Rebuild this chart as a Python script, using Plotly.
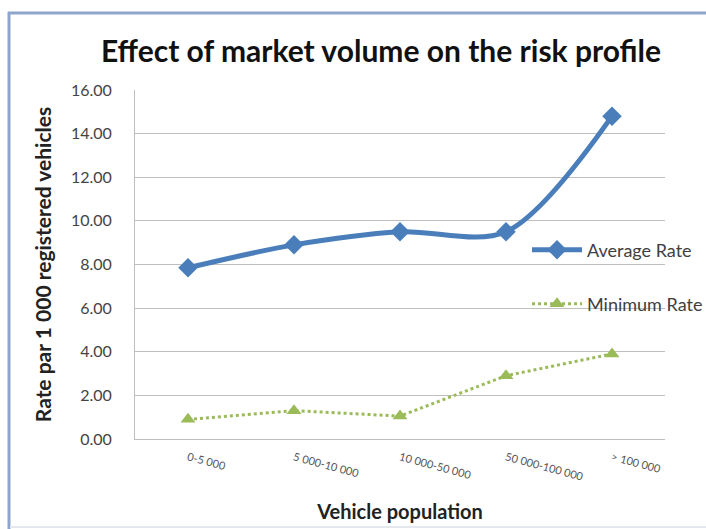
import plotly.graph_objects as go

categories = ["0-5 000", "5 000-10 000", "10 000-50 000", "50 000-100 000", "> 100 000"]
average_rate = [7.85, 8.9, 9.5, 9.5, 14.8]
minimum_rate = [0.9, 1.3, 1.05, 2.9, 3.9]
y_ticks = [0, 2, 4, 6, 8, 10, 12, 14, 16]
y_tick_labels = ["0.00", "2.00", "4.00", "6.00", "8.00", "10.00", "12.00", "14.00", "16.00"]

W, H = 706, 529
L, R, T, B = 135, 41, 90, 90
pw, ph = W - L - R, H - T - B

def px(x):
    return (x - L) / pw

def py(y):
    return (H - B - y) / ph

FONT = "Lato"

fig = go.Figure()
fig.add_trace(go.Scatter(
    x=categories, y=average_rate, name="Average Rate", mode="lines+markers",
    line=dict(color="#4A7EBB", width=5, shape="spline", smoothing=0.9),
    marker=dict(symbol="diamond", size=15, color="#4A7EBB"),
    legend="legend", showlegend=True,
))
fig.add_trace(go.Scatter(
    x=categories, y=minimum_rate, name="Minimum Rate", mode="lines+markers",
    line=dict(color="#9BBB59", width=3, dash="dot"),
    marker=dict(symbol="triangle-up", size=13, color="#9BBB59"),
    legend="legend2", showlegend=True,
))

fig.update_layout(
    width=W, height=H,
    showlegend=True,
    margin=dict(l=L, r=R, t=T, b=B, autoexpand=False),
    paper_bgcolor="white", plot_bgcolor="white",
    font=dict(family=FONT, color="#404040"),
    title=dict(text="<b>Effect of market volume on the risk profile</b>",
               xref="container", x=381 / W, xanchor="center",
               yref="container", y=1 - 51 / H, yanchor="middle",
               font=dict(family=FONT, size=30, color="#111111")),
    xaxis=dict(
        type="category", range=[-0.5, 4.5],
        showgrid=False, showline=True, linecolor="#BFBFBF", linewidth=1,
        ticks="", tickangle=15, tickfont=dict(size=11, color="#555555"),
        ticklabelstandoff=7,
        title=dict(text="<b>Vehicle population</b>", font=dict(family=FONT, size=20, color="#222222"), standoff=23),
    ),
    yaxis=dict(
        range=[0, 16], tickvals=y_ticks, ticktext=y_tick_labels,
        showgrid=True, gridcolor="#BFBFBF", gridwidth=1,
        showline=True, linecolor="#BFBFBF", linewidth=1,
        zeroline=False, ticks="", tickfont=dict(size=16, color="#444444"),
        ticklabelstandoff=19,
        title=dict(text="<b>Rate par 1 000 registered vehicles</b>", font=dict(family=FONT, size=21, color="#222222"), standoff=13),
    ),
    legend=dict(x=px(527), y=py(250), xanchor="left", yanchor="middle",
                bgcolor="rgba(0,0,0,0)", font=dict(size=18, color="#404040"),
                itemwidth=50, visible=True),
    legend2=dict(x=px(527), y=py(304), xanchor="left", yanchor="middle",
                 bgcolor="rgba(0,0,0,0)", font=dict(size=18, color="#404040"),
                 itemwidth=50, visible=True),
    shapes=[
        dict(type="line", xref="paper", yref="paper",
             x0=px(9), x1=px(9), y0=py(529), y1=py(12),
             line=dict(color="#8FA6CC", width=3), layer="below"),
        dict(type="line", xref="paper", yref="paper",
             x0=px(8), x1=px(706), y0=py(13), y1=py(13),
             line=dict(color="#8FA6CC", width=3), layer="below"),
        dict(type="line", xref="paper", yref="paper",
             x0=px(10), x1=px(706), y0=py(527), y1=py(527),
             line=dict(color="#E4E8EE", width=2), layer="below"),
    ],
)

fig.write_html("out.html")
